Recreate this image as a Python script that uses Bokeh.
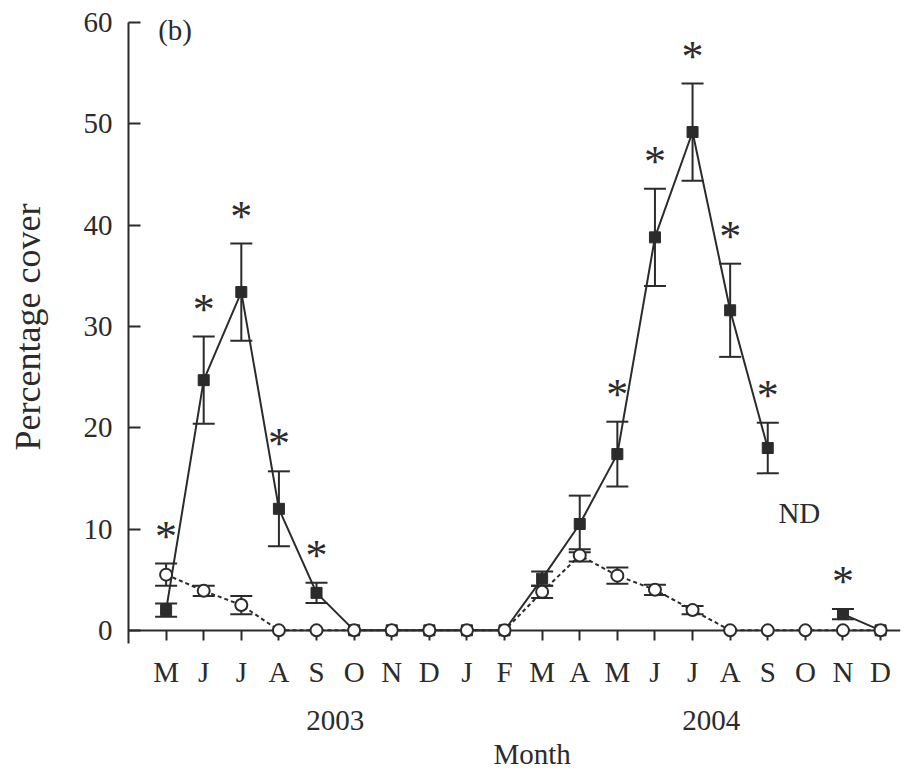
import math
from bokeh.plotting import figure
from bokeh.models import (ColumnDataSource, Whisker, TeeHead, Label, FixedTicker, Range1d,
                          LinearAxis, Title)
from bokeh.core.properties import value
from bokeh.embed import file_html
from bokeh.resources import INLINE

nan = float("nan")

# ---- data ----
months = ["M", "J", "J", "A", "S", "O", "N", "D", "J", "F",
          "M", "A", "M", "J", "J", "A", "S", "O", "N", "D"]
years = ["2003", "2004"]
infected = [2.0, 24.7, 33.4, 12.0, 3.7, 0, 0, 0, 0, 0,
            5.1, 10.5, 17.4, 38.8, 49.2, 31.6, 18.0, nan, 1.6, 0]
infected_se = [0.65, 4.3, 4.8, 3.7, 1.0, 0, 0, 0, 0, 0,
               0.7, 2.8, 3.2, 4.8, 4.8, 4.6, 2.5, nan, 0.5, 0]
control = [5.5, 3.9, 2.5, 0, 0, 0, 0, 0, 0, 0,
           3.8, 7.4, 5.4, 4.0, 2.0, 0, 0, 0, 0, 0]
control_se = [1.1, 0.5, 0.9, 0, 0, 0, 0, 0, 0, 0,
              0.6, 0.6, 0.8, 0.5, 0.4, 0, 0, 0, 0, 0]
significant = [0, 1, 2, 3, 4, 12, 13, 14, 15, 16, 18]
y_ticks = [0, 10, 20, 30, 40, 50, 60]

FONT = "Liberation Serif"
INK = "#2b2b2b"
x = list(range(len(months)))

p = figure(width=907, height=773, output_backend="svg", toolbar_location=None,
           x_range=Range1d(-1, 19.53), y_range=Range1d(-1.3, 61.2),
           min_border_left=128, min_border_right=7, min_border_top=10,
           min_border_bottom=130, background_fill_color="white",
           border_fill_color="white", outline_line_color=None)
p.grid.visible = False

# y axis
p.yaxis.ticker = FixedTicker(ticks=y_ticks)
p.yaxis.bounds = (-1.3, 60)
p.yaxis.major_tick_in = 12
p.yaxis.major_tick_out = 0
p.yaxis.minor_tick_line_color = None
p.yaxis.axis_line_width = 2
p.yaxis.major_tick_line_width = 2
p.yaxis.axis_line_color = INK
p.yaxis.major_tick_line_color = INK
p.yaxis.major_label_standoff = 16
p.yaxis.major_label_text_font = FONT
p.yaxis.major_label_text_font_size = "29px"
p.yaxis.major_label_text_color = INK
p.yaxis.axis_label = "Percentage cover"
p.yaxis.axis_label_text_font = FONT
p.yaxis.axis_label_text_font_style = "normal"
p.yaxis.axis_label_text_font_size = "36px"
p.yaxis.axis_label_text_color = INK
p.yaxis.axis_label_standoff = 33

# x axis line + ticks at y = 0
p.xaxis.ticker = FixedTicker(ticks=x)
p.xaxis.fixed_location = 0
p.xaxis.major_tick_in = 0
p.xaxis.major_tick_out = 10
p.xaxis.minor_tick_line_color = None
p.xaxis.axis_line_width = 2
p.xaxis.major_tick_line_width = 2
p.xaxis.axis_line_color = INK
p.xaxis.major_tick_line_color = INK
p.xaxis.major_label_standoff = 0
p.xaxis.major_label_text_font_size = "1px"
p.xaxis.major_label_text_color = None

# month letters
month_axis = LinearAxis(ticker=FixedTicker(ticks=x),
                        major_label_overrides={i: m for i, m in enumerate(months)},
                        axis_line_color=None, major_tick_line_color=None,
                        minor_tick_line_color=None, major_tick_in=0, major_tick_out=0,
                        major_label_standoff=12, major_label_text_font=FONT,
                        major_label_text_font_size="29px", major_label_text_color=INK)
p.add_layout(month_axis, "below")

# years
year_axis = LinearAxis(ticker=FixedTicker(ticks=[4.5, 14.5]),
                       major_label_overrides={4.5: years[0], 14.5: years[1]},
                       axis_line_color=None, major_tick_line_color=None,
                       minor_tick_line_color=None, major_tick_in=0, major_tick_out=0,
                       major_label_standoff=20, major_label_text_font=FONT,
                       major_label_text_font_size="29px", major_label_text_color=INK)
p.add_layout(year_axis, "below")

p.add_layout(Title(text="Month", align="left", offset=365, text_font=FONT,
                   text_font_size="29px", text_font_style="normal", text_color=INK,
                   standoff=7), "below")

# error bars
def whisker_source(vals, errs):
    xs, lo, hi = [], [], []
    for i, (v, e) in enumerate(zip(vals, errs)):
        if not math.isnan(v) and e > 0:
            xs.append(i)
            lo.append(v - e)
            hi.append(v + e)
    return ColumnDataSource(dict(x=xs, lower=lo, upper=hi))

for vals, errs in ((infected, infected_se), (control, control_se)):
    w = Whisker(base="x", lower="lower", upper="upper", source=whisker_source(vals, errs),
                line_color=INK, line_width=2, level="glyph",
                upper_head=TeeHead(size=22, line_color=INK, line_width=2),
                lower_head=TeeHead(size=22, line_color=INK, line_width=2))
    p.add_layout(w)

# lines
p.line(x, infected, line_color=INK, line_width=2)
p.line(x, control, line_color=INK, line_width=2, line_dash="4 3")

# markers
p.scatter(x, infected, marker="square", size=11, fill_color=INK, line_color=INK, line_width=1)
p.scatter(x, control, marker="circle", size=12, fill_color="white", line_color=INK,
          line_width=2, level="overlay")

# asterisks
star_x = significant
star_y = []
for i in significant:
    tops = []
    for vals, errs in ((infected, infected_se), (control, control_se)):
        if not math.isnan(vals[i]):
            tops.append(vals[i] + errs[i])
    star_y.append(max(tops) + 2.7)
p.text(x=star_x, y=star_y, text=["*"] * len(star_x), text_font=value(FONT),
       text_font_size="44px", text_align="center", text_baseline="alphabetic",
       text_color=INK)

# annotations
def add_label(xv, yv, txt, align="center"):
    p.add_layout(Label(x=xv, y=yv, text=txt, text_font=FONT, text_font_size="29px",
                       text_color=INK, text_align=align, text_baseline="alphabetic"))

add_label(-0.21, 59.3, "(b)", align="left")
add_label(16.84, 11.6, "ND")

open("out.html", "w").write(file_html(p, INLINE))
